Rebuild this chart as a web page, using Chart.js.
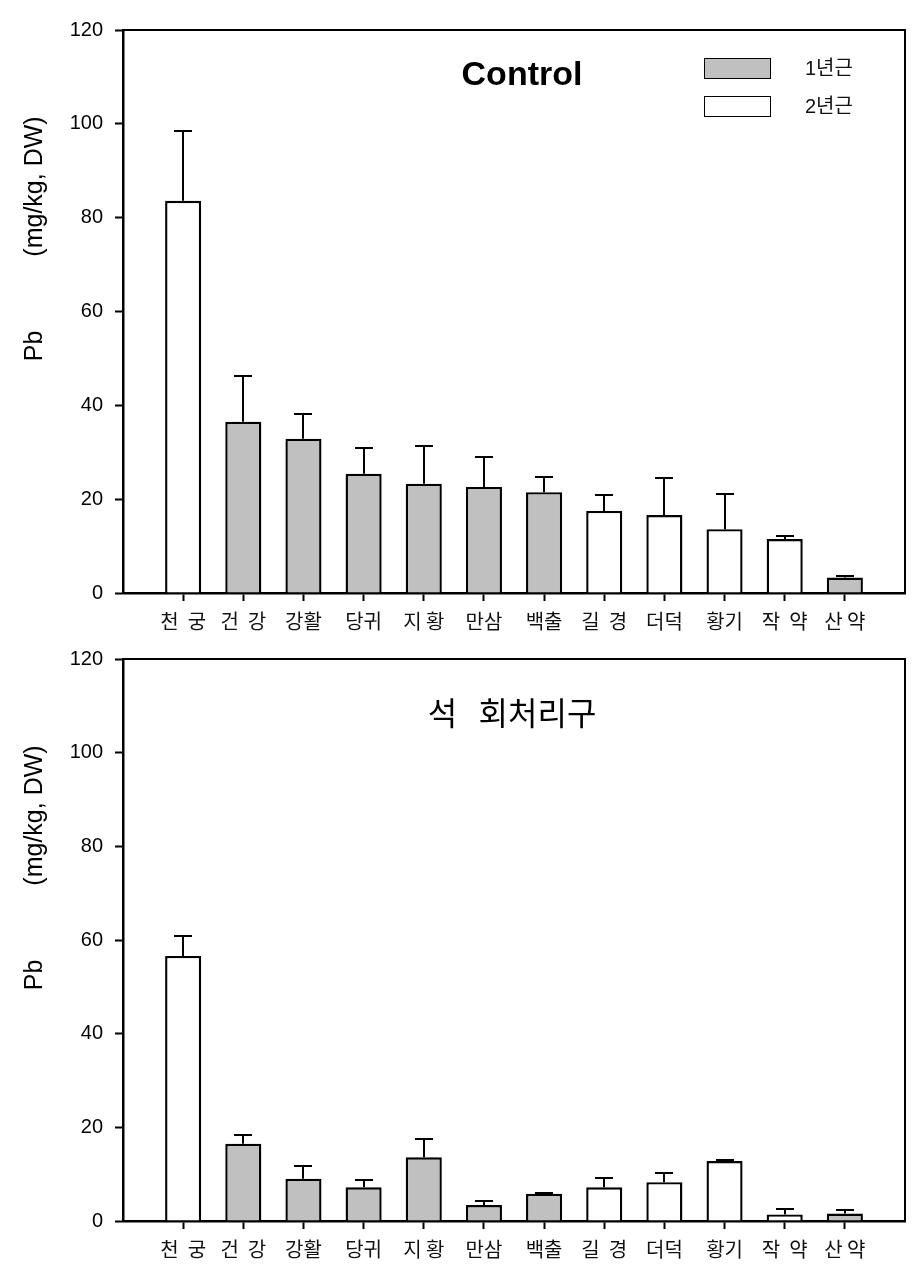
<!DOCTYPE html>
<html><head><meta charset="utf-8">
<script src="https://cdn.jsdelivr.net/npm/chart.js@4/dist/chart.umd.min.js"></script>
<style>
html,body{margin:0;padding:0;background:#fff;width:919px;height:1276px;overflow:hidden}
canvas{position:absolute;left:0}
#c1{top:0}
#c2{top:640px}
</style></head><body>
<canvas id="c1" width="919" height="640"></canvas>
<canvas id="c2" width="919" height="636"></canvas>
<script>
// ---- data ----
const categories = ['천  궁','건  강','강활','당귀','지 황','만삼','백출','길  경','더덕','황기','작  약','산 약'];
const yearGroup  = [2,1,1,1,1,1,1,2,2,2,2,1];          // 1 = 1년근 (gray), 2 = 2년근 (white)
const seriesLabels = ['1년근','2년근'];
const controlMeans = [83.6,36.5,32.9,25.4,23.3,22.6,21.5,17.5,16.6,13.6,11.5,3.3];
const controlSD    = [14.9, 9.8, 5.3, 5.6, 8.1, 6.3, 3.3, 3.4, 7.9, 7.6, 0.7,0.4];
const limeMeans    = [56.6,16.5, 9.0, 7.2,13.6, 3.4, 5.8, 7.2, 8.3,12.8, 1.4,1.6];
const limeSD       = [ 4.3, 1.8, 2.7, 1.6, 3.9, 0.9, 0.2, 1.9, 2.0, 0.2, 1.1,0.7];
const yTickStep = 20, yMin = 0, yMax = 120;
const panelTitles = ['Control','석   회처리구'];
const yTitleMain = 'Pb', yTitleUnit = '(mg/kg, DW)';

const seriesColors = ['#c0c0c0','#ffffff'];
const labels = [''].concat(categories, ['']);

function padded(vals, grp){
  return [null].concat(vals.map((v,i)=> yearGroup[i]===grp ? v : null), [null]);
}
function paddedSD(sd){ return [null].concat(sd, [null]); }

const errPlugin = {
  id:'errbars',
  afterDatasetsDraw(chart){
    const ctx = chart.ctx, ys = chart.scales.y;
    const sd = chart.options.plugins.errbars.sd;
    ctx.save();
    ctx.strokeStyle = '#000'; ctx.lineWidth = 2;
    chart.data.datasets.forEach((ds,di)=>{
      const meta = chart.getDatasetMeta(di);
      meta.data.forEach((el,i)=>{
        const v = ds.data[i];
        if (v===null || v===undefined || sd[i]===null) return;
        const yt = Math.round(ys.getPixelForValue(v + sd[i]));
        const x = Math.round(el.x);
        ctx.beginPath();
        ctx.moveTo(x, el.y); ctx.lineTo(x, yt);
        ctx.moveTo(x-9, yt); ctx.lineTo(x+9, yt);
        ctx.stroke();
      });
    });
    ctx.restore();
  }
};

const decoPlugin = {
  id:'deco',
  afterDraw(chart){
    const o = chart.options.plugins.deco;
    const ctx = chart.ctx, a = chart.chartArea;
    ctx.save();
    // frame (top & right)
    ctx.strokeStyle = '#000'; ctx.lineWidth = 2;
    ctx.beginPath();
    ctx.moveTo(a.left, a.top); ctx.lineTo(a.right, a.top); ctx.lineTo(a.right, a.bottom);
    ctx.stroke();
    // panel title
    ctx.fillStyle = '#000';
    ctx.font = o.titleFont;
    ctx.textAlign = 'center'; ctx.textBaseline = 'middle';
    ctx.fillText(o.title, o.titleX, a.top + o.titleDY);
    // y axis title parts
    ctx.font = '25px "Liberation Sans", Arial, sans-serif';
    ctx.save();
    ctx.translate(35, a.top + 156.5); ctx.rotate(-Math.PI/2);
    ctx.fillText(yTitleUnit, 0, 0);
    ctx.restore();
    ctx.save();
    ctx.translate(35, a.top + 316); ctx.rotate(-Math.PI/2);
    ctx.fillText(yTitleMain, 0, 0);
    ctx.restore();
    // legend
    if (o.legend){
      chart.data.datasets.forEach((ds,i)=>{
        const bx = a.left + 581, by = a.top + 28 + i*38;
        ctx.fillStyle = ds.backgroundColor;
        ctx.fillRect(bx, by, 67, 21);
        ctx.lineWidth = 1; ctx.strokeStyle = '#000';
        ctx.strokeRect(bx+0.5, by+0.5, 66, 20);
        ctx.fillStyle = '#111';
        ctx.font = '20px "Liberation Sans", "Noto Sans CJK KR", sans-serif';
        ctx.textAlign = 'left'; ctx.textBaseline = 'middle';
        ctx.fillText(ds.label, a.left + 682, by + 11);
      });
    }
    ctx.restore();
  }
};

function makeChart(id, means, sd, cfg){
  return new Chart(document.getElementById(id), {
    type:'bar',
    data:{
      labels: labels,
      datasets: seriesLabels.map((lab,k)=>({
        label: lab,
        data: padded(means, k+1),
        backgroundColor: seriesColors[k],
        borderColor: '#000',
        borderWidth: 2.4
      }))
    },
    options:{
      responsive:false, animation:false, devicePixelRatio:1,
      layout:{padding:{top:cfg.padTop, right:14, left:0, bottom:0}},
      datasets:{bar:{grouped:false, barPercentage:0.6, categoryPercentage:1}},
      plugins:{
        legend:{display:false}, tooltip:{enabled:false},
        errbars:{sd: paddedSD(sd)},
        deco: cfg.deco
      },
      scales:{
        x:{
          type:'category', offset:false,
          grid:{display:true, offset:false, drawOnChartArea:false, tickLength:8, tickWidth:2,
                tickColor:(c)=> (c.index===0 || c.index===labels.length-1) ? 'rgba(0,0,0,0)' : '#000'},
          border:{display:true, color:'#000', width:2.5},
          ticks:{autoSkip:false, maxRotation:0, color:'#111', padding:8,
                 font:{family:'"Noto Sans CJK KR", sans-serif', size:20}},
          afterFit:(s)=>{ s.height = cfg.xH; s.paddingLeft = 0; s.paddingRight = 0; }
        },
        y:{
          min:yMin, max:yMax,
          ticks:{stepSize:yTickStep, color:'#000', padding:12,
                 font:{family:'"Liberation Sans", Arial, sans-serif', size:20}},
          grid:{drawOnChartArea:false, tickLength:8, tickWidth:2, tickColor:'#000'},
          border:{color:'#000', width:2.5},
          afterFit:(s)=>{ s.width = 123; s.paddingTop = 0; s.paddingBottom = 0; }
        }
      }
    },
    plugins:[errPlugin, decoPlugin]
  });
}

makeChart('c1', controlMeans, controlSD, {
  padTop:30, xH:47,
  deco:{title:panelTitles[0], titleFont:'bold 34px "Liberation Sans", Arial, sans-serif', titleX:522, titleDY:46, legend:true}
});
makeChart('c2', limeMeans, limeSD, {
  padTop:19, xH:55,
  deco:{title:panelTitles[1], titleFont:'32px "Noto Sans CJK KR", sans-serif', titleX:512, titleDY:54, legend:false}
});
</script>
</body></html>
